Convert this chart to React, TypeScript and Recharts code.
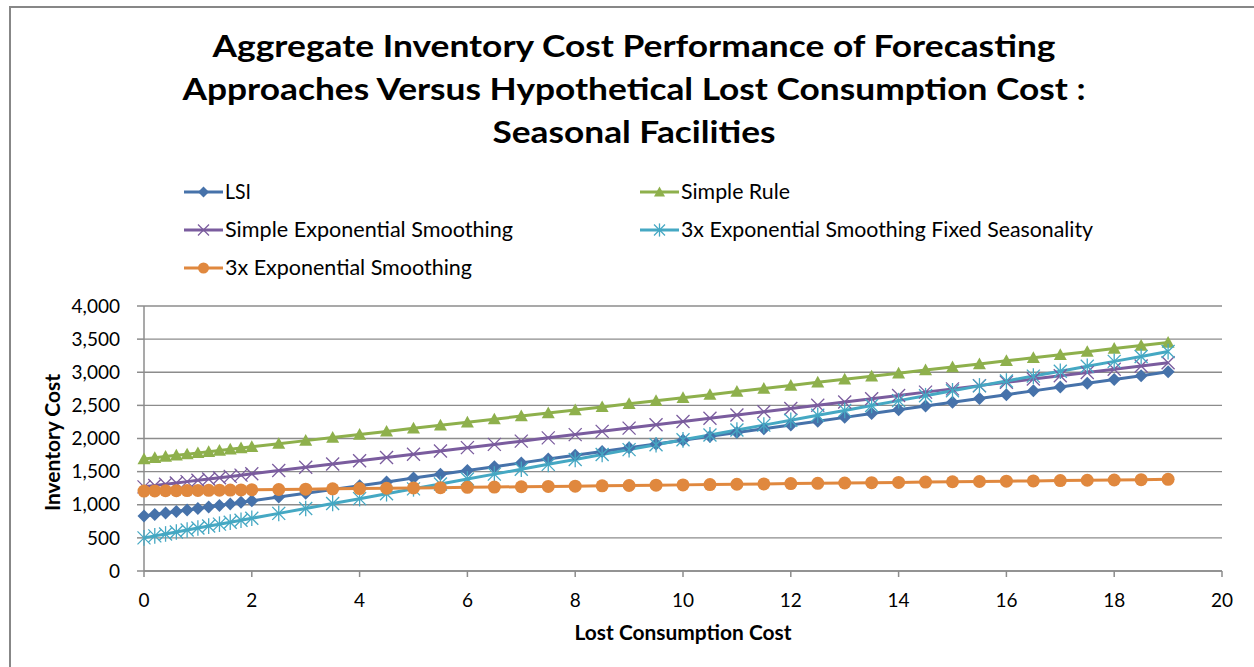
import React from 'react';
import { LineChart, Line, XAxis, YAxis, CartesianGrid, Label } from 'recharts';

const xValues = [0, 0.2, 0.4, 0.6, 0.8, 1, 1.2, 1.4, 1.6, 1.8, 2, 2.5, 3, 3.5, 4, 4.5, 5, 5.5, 6, 6.5, 7, 7.5, 8, 8.5, 9, 9.5, 10, 10.5, 11, 11.5, 12, 12.5, 13, 13.5, 14, 14.5, 15, 15.5, 16, 16.5, 17, 17.5, 18, 18.5, 19];

const lsi = [830, 853, 876, 899, 922, 945, 967, 990, 1013, 1036, 1059, 1116, 1174, 1231, 1288, 1345, 1403, 1460, 1517, 1574, 1632, 1689, 1746, 1803, 1861, 1918, 1975, 2032, 2090, 2147, 2204, 2261, 2319, 2376, 2433, 2490, 2548, 2605, 2662, 2719, 2777, 2834, 2891, 2948, 3006];
const simpleRule = [1690, 1709, 1727, 1746, 1764, 1783, 1801, 1820, 1838, 1857, 1875, 1922, 1968, 2014, 2060, 2107, 2153, 2199, 2246, 2292, 2338, 2385, 2431, 2477, 2523, 2570, 2616, 2662, 2709, 2755, 2801, 2848, 2894, 2940, 2986, 3033, 3079, 3125, 3172, 3218, 3264, 3311, 3357, 3403, 3449];
const simpleES = [1270, 1290, 1309, 1329, 1349, 1369, 1388, 1408, 1428, 1447, 1467, 1517, 1566, 1615, 1664, 1714, 1763, 1812, 1862, 1911, 1960, 2010, 2059, 2108, 2157, 2207, 2256, 2305, 2355, 2404, 2453, 2503, 2552, 2601, 2650, 2700, 2749, 2798, 2848, 2897, 2946, 2996, 3045, 3094, 3143];
const tripleESFixed = [500, 530, 559, 589, 618, 648, 678, 707, 737, 766, 796, 870, 944, 1018, 1092, 1166, 1240, 1314, 1388, 1462, 1536, 1610, 1684, 1758, 1832, 1906, 1980, 2054, 2128, 2202, 2276, 2350, 2424, 2498, 2572, 2646, 2720, 2794, 2868, 2942, 3016, 3090, 3164, 3238, 3312];
const tripleES = [1207, 1209, 1211, 1213, 1214, 1216, 1218, 1220, 1222, 1224, 1226, 1230, 1235, 1240, 1244, 1249, 1254, 1258, 1263, 1267, 1272, 1277, 1281, 1286, 1291, 1295, 1300, 1305, 1309, 1314, 1319, 1323, 1328, 1333, 1337, 1342, 1347, 1351, 1356, 1360, 1365, 1370, 1374, 1379, 1384];

const xTicks = [0, 2, 4, 6, 8, 10, 12, 14, 16, 18, 20];
const yTicks = [0, 500, 1000, 1500, 2000, 2500, 3000, 3500, 4000];

const titleLines = [
  'Aggregate Inventory Cost Performance of Forecasting',
  'Approaches Versus Hypothetical Lost Consumption Cost :',
  'Seasonal Facilities',
];
const titleWidths = [843, 903, 283];

type Shape = 'diamond' | 'triangle' | 'x' | 'asterisk' | 'circle';

const seriesDefs: { key: string; name: string; color: string; shape: Shape }[] = [
  { key: 'lsi', name: 'LSI', color: '#4672AA', shape: 'diamond' },
  { key: 'simpleRule', name: 'Simple Rule', color: '#8EB04C', shape: 'triangle' },
  { key: 'simpleES', name: 'Simple Exponential Smoothing', color: '#7A5C9E', shape: 'x' },
  { key: 'tripleESFixed', name: '3x Exponential Smoothing Fixed Seasonality', color: '#45A8C3', shape: 'asterisk' },
  { key: 'tripleES', name: '3x Exponential Smoothing', color: '#E0883E', shape: 'circle' },
];

const data = xValues.map((x, i) => ({
  x,
  lsi: lsi[i],
  simpleRule: simpleRule[i],
  simpleES: simpleES[i],
  tripleESFixed: tripleESFixed[i],
  tripleES: tripleES[i],
}));

const FONT = 'Lato, "Open Sans", sans-serif';

function renderShape(shape: Shape, cx: number, cy: number, color: string, s: number, key?: any) {
  switch (shape) {
    case 'diamond':
      return <polygon key={key} points={`${cx},${cy - s} ${cx + s},${cy} ${cx},${cy + s} ${cx - s},${cy}`} fill={color} />;
    case 'triangle':
      return <polygon key={key} points={`${cx},${cy - s} ${cx + s},${cy + s * 0.8} ${cx - s},${cy + s * 0.8}`} fill={color} />;
    case 'circle':
      return <circle key={key} cx={cx} cy={cy} r={s} fill={color} />;
    case 'x':
      return (
        <g key={key} stroke={color} strokeWidth={1.3}>
          <line x1={cx - s} y1={cy - s} x2={cx + s} y2={cy + s} />
          <line x1={cx - s} y1={cy + s} x2={cx + s} y2={cy - s} />
        </g>
      );
    case 'asterisk':
      return (
        <g key={key} stroke={color} strokeWidth={1.3}>
          <line x1={cx - s} y1={cy - s} x2={cx + s} y2={cy + s} />
          <line x1={cx - s} y1={cy + s} x2={cx + s} y2={cy - s} />
          <line x1={cx} y1={cy - s * 1.2} x2={cx} y2={cy + s * 1.2} />
        </g>
      );
  }
  return null;
}

function makeDot(shape: Shape, color: string) {
  return (props: any) => {
    const { cx, cy, index } = props;
    if (cx == null || cy == null) return <g key={`d${index}`} />;
    return renderShape(shape, cx, cy, color, 6.5, `d${index}`);
  };
}

const legendItems = [
  { def: seriesDefs[0], x: 184, y: 192, w: 26 },
  { def: seriesDefs[1], x: 640, y: 192, w: 109 },
  { def: seriesDefs[2], x: 184, y: 230, w: 288 },
  { def: seriesDefs[3], x: 640, y: 230, w: 412 },
  { def: seriesDefs[4], x: 184, y: 268, w: 247 },
];

const YLabel = (props: any) => {
  const vb = props.viewBox || { x: 0, y: 0, width: 0, height: 0 };
  const cx = 52;
  const cy = vb.y + vb.height / 2 + 4;
  return (
    <text x={cx} y={cy} transform={`rotate(-90 ${cx} ${cy})`} textAnchor="middle" dominantBaseline="central" fontFamily={FONT} fontWeight={700} fontSize={20} fill="#000" textLength={137} lengthAdjust="spacingAndGlyphs">
      Inventory Cost
    </text>
  );
};

const XLabel = (props: any) => {
  const vb = props.viewBox || { x: 0, y: 0, width: 0, height: 0 };
  return (
    <text x={vb.x + vb.width / 2} y={vb.y + 69} textAnchor="middle" fontFamily={FONT} fontWeight={700} fontSize={20} fill="#000" textLength={217} lengthAdjust="spacingAndGlyphs">
      Lost Consumption Cost
    </text>
  );
};

export default function App() {
  return (
    <div style={{ position: 'fixed', left: 0, top: 0, width: 1254, height: 667, overflow: 'hidden', background: '#fff' }}>
      <div style={{ position: 'absolute', left: 9, top: 6, width: 1300, height: 700, border: '2px solid #878787' }} />
      <div style={{ position: 'absolute', left: 0, top: 0 }}>
        <LineChart width={1254} height={667} data={data} margin={{ top: 306, right: 32, bottom: 0, left: 0 }}>
          <CartesianGrid vertical={false} stroke="#8C8C8C" strokeWidth={1.3} />
          <XAxis
            dataKey="x"
            type="number"
            domain={[0, 20]}
            ticks={xTicks}
            height={96}
            tickSize={6}
            tickMargin={17}
            stroke="#8C8C8C"
            strokeWidth={1.5}
            tick={{ fill: '#000', fontSize: 19, fontFamily: FONT }}
            interval={0}
          >
            <Label content={<XLabel />} />
          </XAxis>
          <YAxis
            type="number"
            domain={[0, 4000]}
            ticks={yTicks}
            width={144}
            tickSize={7}
            tickMargin={17}
            stroke="#8C8C8C"
            strokeWidth={1.5}
            interval={0}
            tickFormatter={(v: number) => v.toLocaleString('en-US')}
            tick={{ fill: '#000', fontSize: 19, fontFamily: FONT }}
          >
            <Label content={<YLabel />} />
          </YAxis>
          {seriesDefs.map((s) => (
            <Line
              key={s.key}
              dataKey={s.key}
              name={s.name}
              stroke={s.color}
              strokeWidth={3}
              dot={makeDot(s.shape, s.color)}
              activeDot={false}
              isAnimationActive={false}
            />
          ))}
        </LineChart>
      </div>
      <svg width={1254} height={667} style={{ position: 'absolute', left: 0, top: 0, pointerEvents: 'none' }}>
        {titleLines.map((t, i) => (
          <text key={i} x={634} y={57 + i * 43} textAnchor="middle" fontFamily={FONT} fontWeight={700} fontSize={31} fill="#000" textLength={titleWidths[i]} lengthAdjust="spacingAndGlyphs">
            {t}
          </text>
        ))}
        {legendItems.map((it, i) => (
          <g key={i}>
            <line x1={it.x} y1={it.y} x2={it.x + 39} y2={it.y} stroke={it.def.color} strokeWidth={3} />
            {renderShape(it.def.shape, it.x + 19.5, it.y, it.def.color, 5.5)}
            <text x={it.x + 41} y={it.y + 7} fontFamily={FONT} fontSize={20.5} fill="#000" textLength={it.w} lengthAdjust="spacingAndGlyphs">
              {it.def.name}
            </text>
          </g>
        ))}
      </svg>
    </div>
  );
}
